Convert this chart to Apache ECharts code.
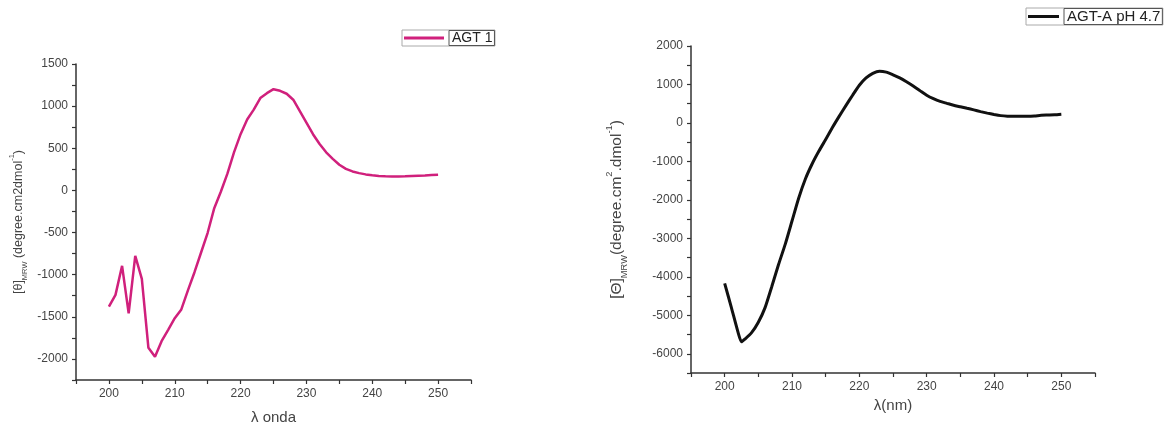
<!DOCTYPE html>
<html>
<head>
<meta charset="utf-8">
<script src="https://cdn.jsdelivr.net/npm/echarts@6/dist/echarts.min.js"></script>
<style>
  html, body { margin: 0; padding: 0; background: #fff; }
  #chart { width: 1167px; height: 430px; }
</style>
</head>
<body>
<div id="chart"></div>
<script>
// CD spectra: AGT 1 (left) and AGT-A pH 4.7 (right)
const wavelengthA = [200, 201, 202, 203, 204, 205, 206, 207, 208, 209, 210, 211, 212, 213, 214, 215,
  216, 217, 218, 219, 220, 221, 222, 223, 224, 225, 226, 227, 228, 229, 230, 231, 232, 233, 234,
  235, 236, 237, 238, 239, 240, 241, 242, 243, 244, 245, 246, 247, 248, 249, 250];
const thetaA = [-1380, -1240, -895, -1460, -776, -1050, -1868, -1975, -1790, -1654, -1517, -1412,
  -1186, -971, -737, -503, -211, -16, 199, 452, 667, 842, 959, 1096, 1154, 1201, 1182, 1147,
  1076, 940, 803, 667, 550, 452, 374, 304, 255, 225, 205, 190, 180, 172, 168, 166, 166, 168,
  172, 175, 178, 182, 185];

const wavelengthB = [200, 201, 202, 202.5, 203, 204, 205, 206, 207, 208, 209, 210, 211, 212, 213,
  214, 215, 216, 217, 218, 219, 220, 221, 222, 223, 224, 225, 226, 227, 228, 229, 230, 231, 232,
  233, 234, 235, 236, 237, 238, 239, 240, 241, 242, 243, 244, 245, 246, 247, 248, 249, 250];
const thetaB = [-4170, -4800, -5450, -5690, -5620, -5450, -5180, -4800, -4250, -3680, -3150,
  -2550, -1950, -1450, -1060, -730, -430, -120, 170, 450, 720, 980, 1170, 1290, 1345, 1320, 1250,
  1170, 1070, 960, 840, 720, 630, 560, 510, 460, 420, 380, 340, 295, 255, 220, 190, 175, 172,
  172, 172, 180, 200, 205, 210, 225];

const seriesNames = ['AGT 1', 'AGT-A pH 4.7'];
const xNames = ['λ onda', 'λ(nm)'];

const pairs = (xs, ys) => xs.map((x, i) => [x, ys[i]]);
const FONT = 'Liberation Sans, Arial, sans-serif';
const AXIS_COLOR = '#333';

function xAxisFor(gridIndex, name, gap) {
  return {
    type: 'value', gridIndex, min: 195, max: 255, interval: 5,
    name, nameLocation: 'middle', nameGap: gap,
    nameTextStyle: { fontFamily: FONT, fontSize: 15, color: '#444' },
    axisLine: { show: true, onZero: false, lineStyle: { color: AXIS_COLOR, width: 1.5 } },
    axisTick: { show: true, length: 4, lineStyle: { color: AXIS_COLOR, width: 1.2 } },
    axisLabel: {
      fontFamily: FONT, fontSize: 12, color: '#444', margin: 8,
      formatter: v => (v % 10 === 0 ? String(v) : '')
    },
    splitLine: { show: false }
  };
}

function yAxisFor(gridIndex, min, max, interval, labelStep, name, gap, fontSize) {
  return {
    type: 'value', gridIndex, min, max, interval,
    name, nameLocation: 'middle', nameGap: gap, nameRotate: 90,
    nameTextStyle: {
      fontFamily: FONT, fontSize, color: '#444',
      rich: {
        base: { fontFamily: FONT, fontSize, color: '#444' },
        sub: { fontFamily: FONT, fontSize: fontSize * 0.6, color: '#444', verticalAlign: 'bottom', padding: [0, 0, -4, 0] },
        sup: { fontFamily: FONT, fontSize: fontSize * 0.6, color: '#444', verticalAlign: 'top', padding: [-4, 0, 0, 0] }
      }
    },
    axisLine: { show: true, onZero: false, lineStyle: { color: AXIS_COLOR, width: 1.5 } },
    axisTick: { show: true, length: 4, lineStyle: { color: AXIS_COLOR, width: 1.2 } },
    axisLabel: {
      fontFamily: FONT, fontSize: 12, color: '#444', margin: 8,
      formatter: v => (v % labelStep === 0 ? String(v) : '')
    },
    splitLine: { show: false }
  };
}

const chart = echarts.init(document.getElementById('chart'), null, { renderer: 'canvas' });

chart.setOption({
  backgroundColor: '#fff',
  animation: false,
  grid: [
    { left: 76, right: 696, top: 64, bottom: 46 },
    { left: 691, right: 72, top: 46, bottom: 57 }
  ],
  legend: [
    {
      data: [seriesNames[0]], left: 402, top: 30, icon: 'rect', itemWidth: 40, itemHeight: 3,
      padding: [0, 0, 0, 2], itemGap: 0, borderColor: '#aaa', borderWidth: 1,
      itemStyle: { color: '#d0207c' },
      textStyle: { fontFamily: FONT, fontSize: 14, color: '#222', borderColor: '#555', borderWidth: 1, padding: [1, 2, 0, 3] }
    },
    {
      data: [seriesNames[1]], left: 1026, top: 8, icon: 'rect', itemWidth: 31, itemHeight: 3,
      padding: [0, 0, 0, 2], itemGap: 0, borderColor: '#aaa', borderWidth: 1,
      itemStyle: { color: '#111' },
      textStyle: { fontFamily: FONT, fontSize: 15, color: '#222', borderColor: '#555', borderWidth: 1, padding: [1, 2, 0, 3] }
    }
  ],
  xAxis: [
    xAxisFor(0, xNames[0], 30),
    xAxisFor(1, xNames[1], 21)
  ],
  yAxis: [
    yAxisFor(0, -2250, 1500, 250, 500,
      '{base|[θ]}{sub|MRW}{base| (degree.cm2dmol}{sup|-1}{base|)}', 51, 12.5),
    yAxisFor(1, -6500, 2000, 500, 1000,
      '{base|[Θ]}{sub|MRW}{base|(degree.cm}{sup|2}{base|.dmol}{sup|-1}{base|)}', 66, 15.5)
  ],
  series: [
    {
      name: seriesNames[0], type: 'line', xAxisIndex: 0, yAxisIndex: 0,
      data: pairs(wavelengthA, thetaA), symbol: 'none', smooth: false,
      lineStyle: { color: '#d0207c', width: 2.5 }, itemStyle: { color: '#d0207c' }
    },
    {
      name: seriesNames[1], type: 'line', xAxisIndex: 1, yAxisIndex: 1,
      data: pairs(wavelengthB, thetaB), symbol: 'none', smooth: 0.2,
      lineStyle: { color: '#111', width: 3 }, itemStyle: { color: '#111' }
    }
  ]
});
</script>
</body>
</html>
